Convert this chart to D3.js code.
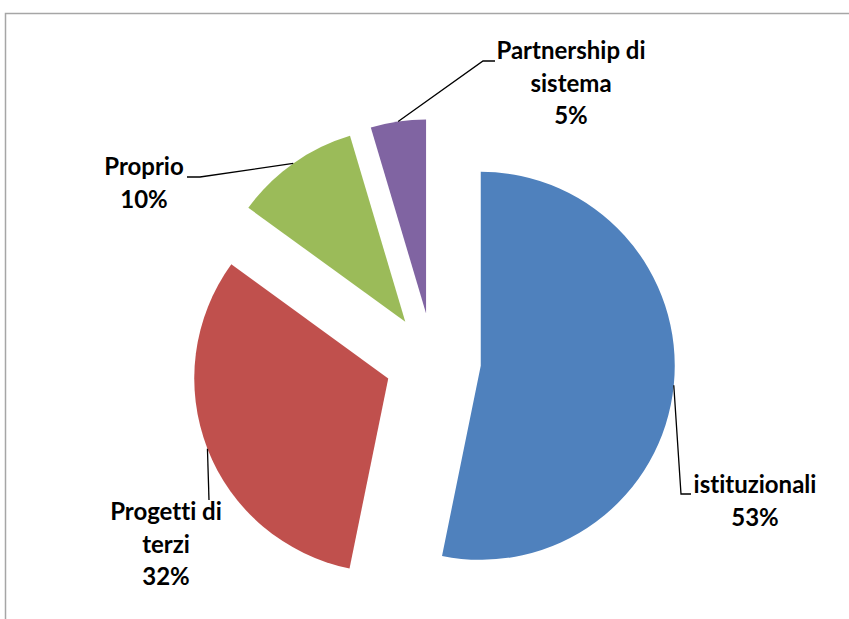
<!DOCTYPE html>
<html lang="it">
<head>
  <meta charset="UTF-8" />
  <title>Pie chart</title>
  <script src="https://d3js.org/d3.v7.min.js"></script>
  <style>
    body { margin: 0; background: #fff; }
    text { font-family: Lato, "Open Sans", sans-serif; font-weight: bold; fill: #000; font-variant-ligatures: none; }
  </style>
</head>
<body>
  <svg id="chart" width="849" height="619"></svg>

  <script>
    // Data
    const categories = ["istituzionali", "Progetti di terzi", "Proprio", "Partnership di sistema"];
    const values = [53.2, 31.8, 10.4, 4.6];
    const colors = ["#4F81BD", "#C0504D", "#9BBB59", "#8064A2"];
    // label lines as they wrap in the picture
    const labelLines = [["istituzionali"], ["Progetti di", "terzi"], ["Proprio"], ["Partnership di", "sistema"]];

    const svg = d3.select("#chart");
    const cx = 433, cy = 361, radius = 194, explode = 48;

    // chart frame (only top and left edges are visible)
    svg.append("rect")
      .attr("x", 5.5).attr("y", 13.5)
      .attr("width", 900).attr("height", 700)
      .attr("fill", "none")
      .attr("stroke", "#a6a6a6")
      .attr("stroke-width", 1.5);

    const pie = d3.pie().sort(null).value(d => d)(values);
    const arc = d3.arc().innerRadius(0).outerRadius(radius);

    const dir = a => [Math.sin(a), -Math.cos(a)];

    const g = svg.append("g").attr("transform", `translate(${cx},${cy})`);

    g.selectAll("path")
      .data(pie)
      .join("path")
      .attr("d", arc)
      .attr("fill", (d, i) => colors[i])
      .attr("transform", d => {
        const m = dir((d.startAngle + d.endAngle) / 2);
        return `translate(${m[0] * explode},${m[1] * explode})`;
      });

    // anchor point of each leader line on the outer arc
    function anchor(d) {
      const mid = (d.startAngle + d.endAngle) / 2;
      const m = dir(mid);
      return [cx + m[0] * (explode + radius), cy + m[1] * (explode + radius)];
    }

    // label layout: leader line bends and text block position
    const labelLayout = [
      { bend: [[681, 494], [691, 494]], x: 755, y: 493 },
      { bend: [[209, 500]], x: 166, y: 520 },
      { bend: [[200, 177], [187, 177]], x: 144, y: 175 },
      { bend: [[483, 61], [495, 61]], x: 571, y: 59 }
    ];
    const lineH = 32.5;

    pie.forEach((d, i) => {
      const L = labelLayout[i];
      const pts = [anchor(d)].concat(L.bend);
      svg.append("path")
        .attr("d", d3.line()(pts))
        .attr("fill", "none")
        .attr("stroke", "#000")
        .attr("stroke-width", 1.3);

      const lines = labelLines[i].concat([Math.round(values[i]) + "%"]);
      const t = svg.append("text")
        .attr("text-anchor", "middle")
        .attr("font-size", 24);
      lines.forEach((s, k) => {
        t.append("tspan")
          .attr("x", L.x)
          .attr("y", L.y + k * lineH)
          .text(s);
      });
    });
  </script>
</body>
</html>
